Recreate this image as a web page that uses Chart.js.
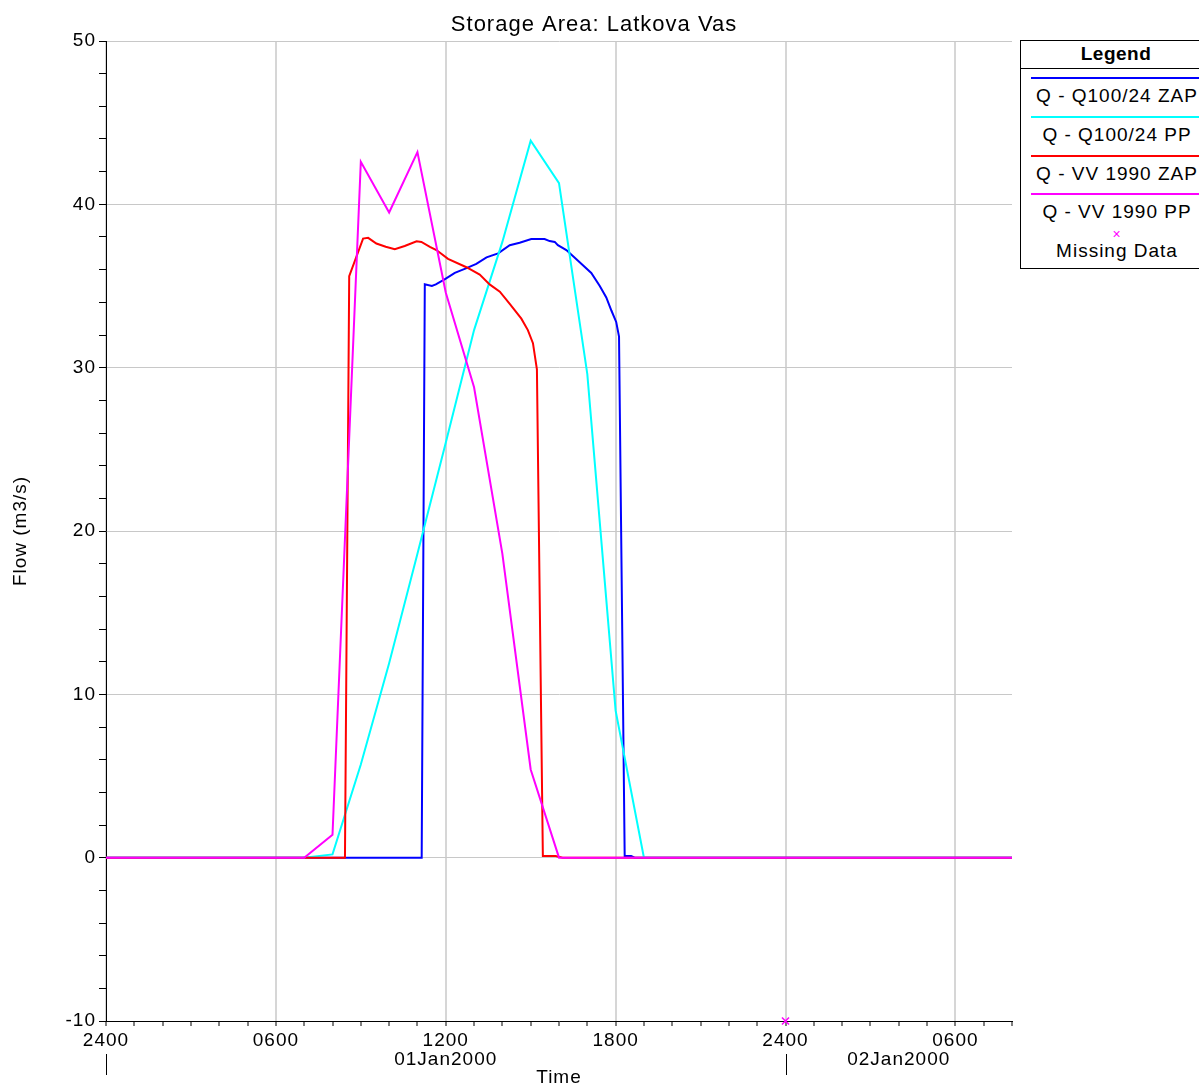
<!DOCTYPE html>
<html>
<head>
<meta charset="utf-8">
<script src="https://cdn.jsdelivr.net/npm/chart.js@4.4.0/dist/chart.umd.min.js"></script>
<style>
  body { margin: 0; background: #fff; overflow: hidden; font-family: "Liberation Sans", Arial, sans-serif; }
  #wrap { position: relative; width: 1199px; height: 1087px; }
  #legend { position: absolute; left: 1020px; top: 40px; width: 192px; height: 229px; border: 1px solid #000; box-sizing: border-box; background: #fff; }
  #legend .head { position: absolute; left: 0; top: 0; width: 100%; height: 27px; border-bottom: 1px solid #000; text-align: center; font-weight: bold; font-size: 19px; line-height: 26px; letter-spacing: 0.5px; }
  #legend .linea { position: absolute; left: 10px; width: 180px; height: 2px; }
  #legend .txt { position: absolute; left: 0; width: 192px; text-align: center; font-size: 19px; line-height: 22px; letter-spacing: 1px; color: #000; }
</style>
</head>
<body>
<div id="wrap">
  <canvas id="myChart" width="1199" height="1087"></canvas>
  <div id="legend"></div>
</div>
<script>
const titulo = "Storage Area: Latkova Vas";
const tituloY = "Flow (m3/s)";
const tituloX = "Time";

// hourly series (hours from 01Jan2000 0000)
const horasPP = [0, 1, 2, 3, 4, 5, 6, 7, 8, 9, 10, 11, 12, 13, 14, 15, 16,
  17, 18, 19, 20, 21, 22, 23, 24, 25, 26, 27, 28, 29, 30, 31, 32];
const q100PP = [0, 0, 0, 0, 0, 0, 0, 0, 0.2, 5.7, 11.9, 18.6, 25.4, 32.3, 37.7, 43.9, 41.3,
  29.6, 9.0, 0, 0, 0, 0, 0, 0, 0, 0, 0, 0, 0, 0, 0, 0];
const vv1990PP = [0, 0, 0, 0, 0, 0, 0, 0, 1.4, 42.6, 39.5, 43.2, 34.6, 28.8, 18.6, 5.4, 0,
  0, 0, 0, 0, 0, 0, 0, 0, 0, 0, 0, 0, 0, 0, 0, 0];

// Q100/24 ZAP
const horasQ100ZAP = [0, 11.15, 11.26, 11.51, 11.65, 11.85, 11.96, 12.32, 12.67, 13.08, 13.44,
  13.85, 14.26, 14.61, 15.02, 15.49, 15.67, 15.85, 15.96, 16.26, 16.73, 17.14, 17.44,
  17.67, 17.85, 18.02, 18.12, 18.32, 18.55, 18.67, 32];
const q100ZAP = [0, 0, 35.1, 35.0, 35.1, 35.3, 35.4, 35.8, 36.05, 36.35, 36.75,
  37.0, 37.5, 37.65, 37.88, 37.88, 37.75, 37.7, 37.5, 37.2, 36.45, 35.8, 35.0,
  34.3, 33.5, 32.8, 31.9, 0.1, 0.1, 0, 0];

// VV 1990 ZAP
const horasVVZAP = [0, 8.44, 8.59, 9.08, 9.26, 9.55, 9.88, 10.2, 10.55, 10.97, 11.14,
  11.44, 11.67, 12.08, 12.73, 13.2, 13.55, 13.91, 14.26, 14.67, 14.9, 15.08, 15.22,
  15.43, 15.88, 16.13, 32];
const vvZAP = [0, 0, 35.6, 37.9, 37.95, 37.6, 37.4, 37.25, 37.45, 37.74, 37.7,
  37.4, 37.2, 36.66, 36.15, 35.7, 35.1, 34.65, 33.9, 33.0, 32.3, 31.5, 29.9,
  0.1, 0.1, 0, 0];

// missing data marker
const horasFaltantes = [24];
const valoresFaltantes = [-10];

const etiquetasDia = ["01Jan2000", "02Jan2000"];
const centrosDia = [12, 28];
const inicioDias = [0, 24];

const series = [
  { nombre: "Q - Q100/24 ZAP", color: "#0000ff", x: horasQ100ZAP, y: q100ZAP, orden: 3 },
  { nombre: "Q - Q100/24 PP", color: "#00ffff", x: horasPP, y: q100PP, orden: 2 },
  { nombre: "Q - VV 1990 ZAP", color: "#ff0000", x: horasVVZAP, y: vvZAP, orden: 1 },
  { nombre: "Q - VV 1990 PP", color: "#ff00ff", x: horasPP, y: vv1990PP, orden: 0 }
];

function juntar(xs, ys) {
  return xs.map((h, i) => ({ x: h, y: ys[i] }));
}

function etiquetaHora(h) {
  if (h % 6 !== 0) return "";
  let hh = h % 24;
  if (hh === 0) hh = 24;
  return String(hh).padStart(2, "0") + "00";
}

const datasets = series.map((s) => ({
  label: s.nombre,
  data: juntar(s.x, s.y),
  borderColor: s.color,
  backgroundColor: s.color,
  borderWidth: 2,
  pointRadius: 0,
  tension: 0,
  fill: false,
  order: s.orden
}));

datasets.push({
  label: "Missing Data",
  data: juntar(horasFaltantes, valoresFaltantes),
  showLine: false,
  pointStyle: "crossRot",
  pointRadius: 5,
  borderColor: "#ff00ff",
  borderWidth: 1.5,
  clip: false,
  order: -1
});

const textosExtra = {
  id: "textosExtra",
  beforeDraw(chart) {
    chart.ctx.letterSpacing = "1px";
  },
  afterDraw(chart) {
    const { ctx, chartArea, scales } = chart;
    const ejeX = scales.x;
    ctx.save();
    ctx.letterSpacing = "1px";
    ctx.fillStyle = "#000";
    ctx.textAlign = "center";
    ctx.textBaseline = "middle";
    ctx.font = '22px "Liberation Sans"';
    ctx.fillText(titulo, 594, 25);
    ctx.font = '19px "Liberation Sans"';
    etiquetasDia.forEach((d, i) => {
      ctx.fillText(d, ejeX.getPixelForValue(centrosDia[i]), 1060);
    });
    ctx.fillText(tituloX, (chartArea.left + chartArea.right) / 2, 1078);
    ctx.strokeStyle = "#000";
    ctx.lineWidth = 1;
    inicioDias.forEach((h) => {
      const px = Math.round(ejeX.getPixelForValue(h)) + 0.5;
      ctx.beginPath();
      ctx.moveTo(px, 1054);
      ctx.lineTo(px, 1075);
      ctx.stroke();
    });
    ctx.restore();
  }
};

const fuente = { family: '"Liberation Sans", Arial, sans-serif', size: 19 };

const config = {
  type: "line",
  data: { datasets: datasets },
  options: {
    responsive: false,
    animation: false,
    devicePixelRatio: 1,
    layout: { padding: { top: 41, right: 187, left: 0, bottom: 0 } },
    plugins: { legend: { display: false }, tooltip: { enabled: false } },
    scales: {
      x: {
        type: "linear",
        min: 0,
        max: 32,
        afterFit: (scale) => { scale.height = 66; },
        ticks: {
          stepSize: 1,
          autoSkip: false,
          maxRotation: 0,
          padding: 3,
          color: "#000",
          font: fuente,
          callback: (v) => etiquetaHora(v)
        },
        grid: {
          color: (ctx) => (ctx.tick && ctx.tick.value % 6 === 0 ? "#d6d6d6" : "rgba(0,0,0,0)"),
          lineWidth: 2,
          tickColor: "#000",
          tickLength: 5,
          tickWidth: 1
        },
        border: { color: "#000", width: 1 }
      },
      y: {
        min: -10,
        max: 50,
        afterFit: (scale) => { scale.width = 106; },
        ticks: {
          stepSize: 2,
          padding: 3,
          color: "#000",
          font: fuente,
          callback: (v) => (v % 10 === 0 ? String(v) : "")
        },
        grid: {
          color: (ctx) => (ctx.tick && ctx.tick.value % 10 === 0 ? "#c8c8c8" : "rgba(0,0,0,0)"),
          lineWidth: 1,
          tickColor: "#000",
          tickLength: 7,
          tickWidth: 1
        },
        border: { color: "#000", width: 1 },
        title: {
          display: true,
          text: tituloY,
          color: "#000",
          font: fuente,
          padding: { top: 9, bottom: 0 }
        }
      }
    }
  },
  plugins: [textosExtra]
};

new Chart(document.getElementById("myChart"), config);

// legend box
const leyenda = document.getElementById("legend");
let html = '<div class="head">Legend</div>';
series.forEach((s, i) => {
  const yLinea = 37 + i * 38.8;
  html += `<div class="linea" style="top:${yLinea - 1}px;background:${s.color}"></div>`;
  html += `<div class="txt" style="top:${yLinea + 7}px">${s.nombre}</div>`;
});
html += '<div class="txt" style="top:186px;color:#ff00ff;font-size:14px;line-height:14px">×</div>';
html += '<div class="txt" style="top:199px">Missing Data</div>';
leyenda.innerHTML = html;
</script>
</body>
</html>
